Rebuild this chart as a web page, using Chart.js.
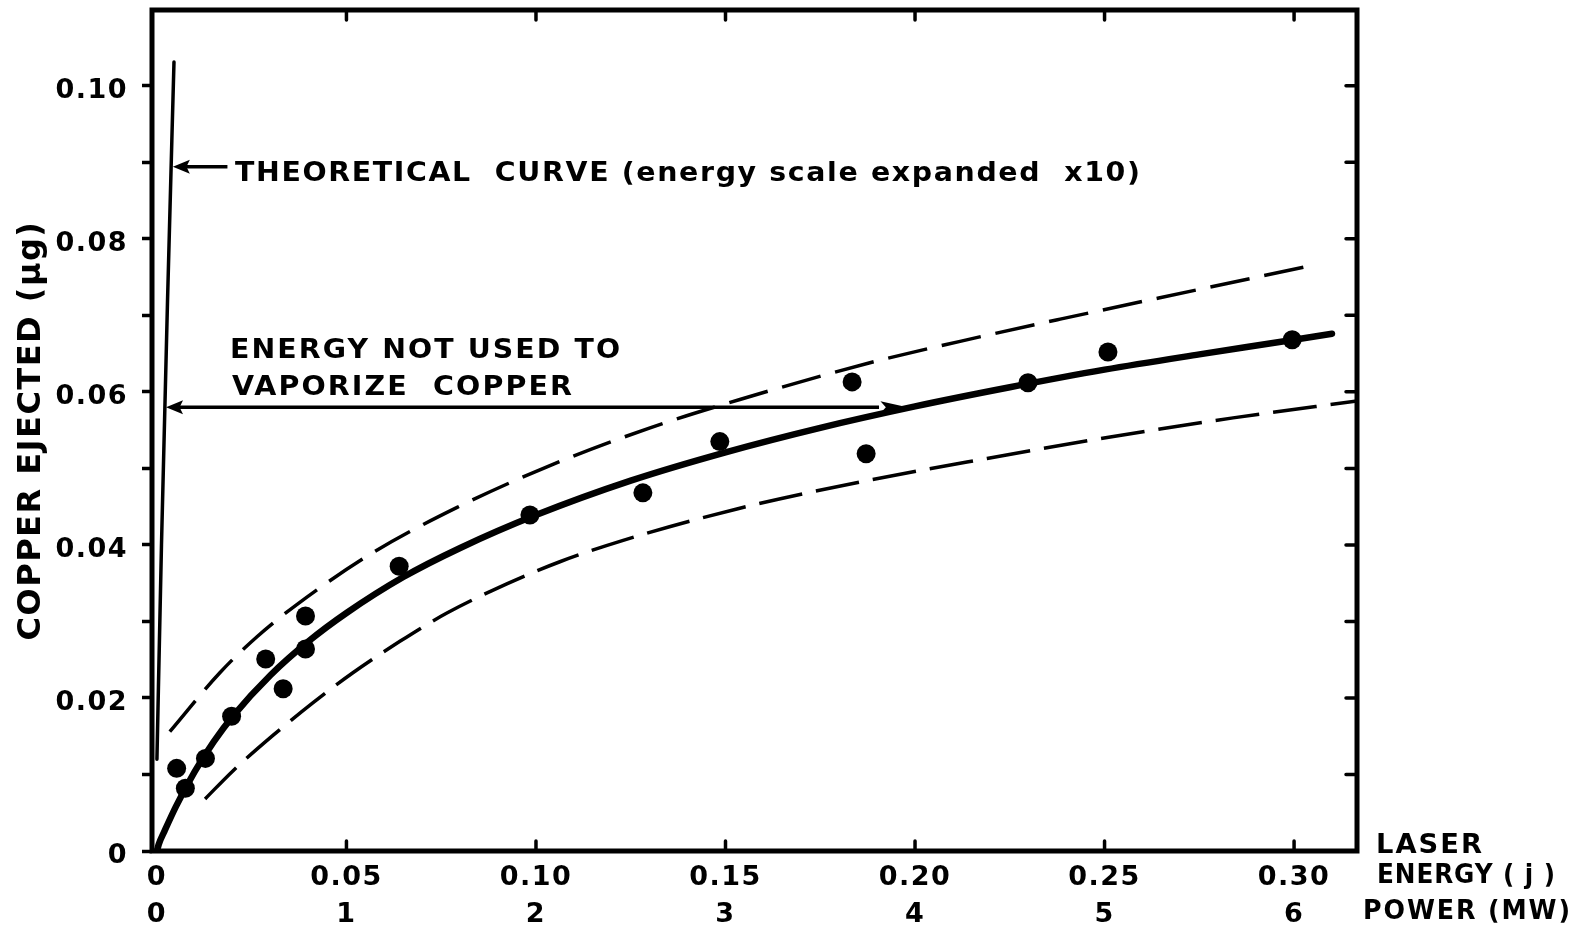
<!DOCTYPE html>
<html><head><meta charset="utf-8">
<script src="https://cdn.jsdelivr.net/npm/chart.js@4.4.1/dist/chart.umd.min.js"></script>
<style>html,body{margin:0;padding:0;background:#fff;} canvas{display:block;}</style>
</head><body>
<canvas id="c" width="1574" height="933"></canvas>
<script>
// ---- tick labels ----
const energyTickLabels = ['0','0.05','0.10','0.15','0.20','0.25','0.30'];
const powerTickLabels  = ['0','1','2','3','4','5','6'];
const copperTickLabels = ['0','','0.02','','0.04','','0.06','','0.08','','0.10'];

// ---- measured points (laser energy j, copper ejected µg) ----
const pointEnergy = [0.0052,0.0075,0.0128,0.0197,0.0287,0.0333,0.0392,0.0392,0.0639,0.0984,0.1282,0.1485,0.1834,0.1871,0.2298,0.2509,0.2995];
const pointCopper = [0.0108,0.0082,0.0121,0.0176,0.0251,0.0212,0.0307,0.0264,0.0372,0.0439,0.0468,0.0535,0.0613,0.0519,0.0612,0.0652,0.0668];

// ---- fitted curve ----
const fitEnergy = [0,0.0005,0.002,0.005,0.010,0.015,0.020,0.030,0.040,0.050,0.065,0.080,0.100,0.125,0.150,0.175,0.200,0.225,0.250,0.275,0.300,0.310];
const fitCopper = [0,0.0009,0.0026,0.0058,0.0104,0.0143,0.0176,0.0230,0.0274,0.0311,0.0358,0.0396,0.0439,0.0484,0.0521,0.0553,0.0581,0.0606,0.0629,0.0649,0.0668,0.0676];

// ---- upper / lower dashed bounds ----
const upperEnergy = [0.0034,0.0166,0.0264,0.0369,0.0570,0.0792,0.1029,0.1301,0.1538,0.1881,0.2119,0.2383,0.2646,0.3055];
const upperCopper = [0.0156,0.0233,0.0280,0.0322,0.0390,0.0449,0.0502,0.0553,0.0590,0.0638,0.0666,0.0695,0.0723,0.0766];
const lowerEnergy = [0.0127,0.0201,0.0306,0.0412,0.0517,0.0641,0.0765,0.0923,0.1063,0.1230,0.1530,0.1863,0.2190,0.2515,0.2839,0.3166];
const lowerCopper = [0.0068,0.0105,0.0151,0.0194,0.0233,0.0274,0.0311,0.0349,0.0378,0.0406,0.0447,0.0483,0.0513,0.0541,0.0566,0.0588];

// ---- theoretical curve (energy scale expanded x10) ----
const theoEnergy = [0.0000,0.0012,0.0028,0.0045];
const theoCopper = [0.0120,0.0400,0.0720,0.1031];

const xy = (xs, ys) => xs.map((x, i) => ({x: x, y: ys[i]}));
const FONT = 'DejaVu Sans';

function fitText(ctx, str, x, base, width, size, spacing) {
  ctx.font = 'bold ' + size + 'px "' + FONT + '"';
  ctx.textAlign = 'left'; ctx.textBaseline = 'alphabetic'; ctx.fillStyle = '#000';
  if ('letterSpacing' in ctx) ctx.letterSpacing = spacing + 'px';
  const w = ctx.measureText(str).width - spacing;
  ctx.save(); ctx.translate(x, base); ctx.scale(width / w, 1); ctx.fillText(str, 0, 0); ctx.restore();
  if ('letterSpacing' in ctx) ctx.letterSpacing = '0px';
}
function arrowHead(ctx, tx, ty, dir, len, half) {
  ctx.beginPath();
  ctx.moveTo(tx, ty);
  ctx.lineTo(tx - dir * len, ty - half);
  ctx.lineTo(tx - dir * len * 0.8, ty);
  ctx.lineTo(tx - dir * len, ty + half);
  ctx.closePath();
  ctx.fill();
}

const decor = {
  id: 'decor',
  beforeDraw(chart) { if ('letterSpacing' in chart.ctx) chart.ctx.letterSpacing = '1.5px'; },
  afterDraw(chart) {
    const ctx = chart.ctx, xs = chart.scales.x, ys = chart.scales.y, a = chart.chartArea;
    if ('letterSpacing' in ctx) ctx.letterSpacing = '0px';
    ctx.save();
    ctx.strokeStyle = '#000'; ctx.fillStyle = '#000';
    // frame
    ctx.lineWidth = 5; ctx.lineJoin = 'miter';
    ctx.strokeRect(a.left, a.top, a.right - a.left, a.bottom - a.top);
    // inward ticks: top, bottom, right
    ctx.lineWidth = 3.5; ctx.lineCap = 'round';
    ctx.beginPath();
    xs.ticks.forEach(t => {
      if (t.value <= 0.001) return;
      const px = xs.getPixelForValue(t.value);
      ctx.moveTo(px, a.bottom); ctx.lineTo(px, a.bottom - 10);
      ctx.moveTo(px, a.top); ctx.lineTo(px, a.top + 10);
    });
    ys.ticks.forEach(t => {
      if (t.value <= 0.001) return;
      const py = ys.getPixelForValue(t.value);
      ctx.moveTo(a.right, py); ctx.lineTo(a.right - 11, py);
    });
    ctx.stroke();

    // theoretical curve arrow
    ctx.lineCap = 'butt'; ctx.lineWidth = 3.5;
    let ay = ys.getPixelForValue(0.0894);
    let x1 = xs.getPixelForValue(0.0186), x0 = xs.getPixelForValue(0.0042);
    ctx.beginPath(); ctx.moveTo(x1, ay); ctx.lineTo(x0 + 12, ay); ctx.stroke();
    arrowHead(ctx, x0, ay, -1, 17, 7);

    // energy-not-used arrow
    ay = ys.getPixelForValue(0.058);
    x0 = xs.getPixelForValue(0.0024);
    x1 = xs.getPixelForValue(0.1905);
    ctx.beginPath(); ctx.moveTo(x0 + 12, ay); ctx.lineTo(x1, ay); ctx.stroke();
    arrowHead(ctx, x0, ay, -1, 17, 7);
    arrowHead(ctx, xs.getPixelForValue(0.198), ay, 1, 27, 6);

    // annotation texts
    fitText(ctx, 'THEORETICAL  CURVE (energy scale expanded  x10)', 235, 181, 905, 26, 1.5);
    fitText(ctx, 'ENERGY NOT USED TO', 230, 358, 390, 27, 2);
    fitText(ctx, 'VAPORIZE  COPPER', 232, 395, 340, 27, 2);
    // axis captions at right of x axis
    fitText(ctx, 'LASER', 1376, 853, 106, 27, 2);
    fitText(ctx, 'ENERGY ( j )', 1377, 883, 178, 27, 1);
    fitText(ctx, 'POWER (MW)', 1363, 919, 207, 27, 2);
    ctx.restore();
  }
};

new Chart(document.getElementById('c'), {
  type: 'scatter',
  data: {
    datasets: [
      {data: xy(upperEnergy, upperCopper), showLine: true, borderColor: '#000', borderWidth: 3.5,
       borderDash: [40, 15], pointRadius: 0, cubicInterpolationMode: 'monotone'},
      {data: xy(lowerEnergy, lowerCopper), showLine: true, borderColor: '#000', borderWidth: 3.5,
       borderDash: [44, 14], pointRadius: 0, cubicInterpolationMode: 'monotone'},
      {data: xy(fitEnergy, fitCopper), showLine: true, borderColor: '#000', borderWidth: 6.5,
       pointRadius: 0, cubicInterpolationMode: 'monotone', borderCapStyle: 'round', borderJoinStyle: 'round'},
      {data: xy(theoEnergy, theoCopper), showLine: true, borderColor: '#000', borderWidth: 3.5,
       pointRadius: 0, cubicInterpolationMode: 'monotone', borderCapStyle: 'round'},
      {data: xy(pointEnergy, pointCopper), showLine: false, pointRadius: 9.5,
       pointBackgroundColor: '#000', pointBorderColor: '#000', pointBorderWidth: 0}
    ]
  },
  options: {
    responsive: false, animation: false, devicePixelRatio: 1,
    layout: {padding: {left: 0, top: 10, right: 217, bottom: 0}},
    plugins: {legend: {display: false}, tooltip: {enabled: false}},
    scales: {
      x: {
        type: 'linear', position: 'bottom', min: -0.0013, max: 0.3166,
        afterFit(s) { s.height = 82; s.paddingLeft = 0; s.paddingRight = 0; },
        grid: {display: false, drawTicks: false},
        border: {display: false},
        ticks: {
          stepSize: 0.05, includeBounds: false, autoSkip: false, maxRotation: 0, padding: 8.5,
          color: '#000', font: {family: FONT, size: 27, weight: 'bold', lineHeight: 1.37},
          callback(v) { const i = Math.round(v / 0.05); return [energyTickLabels[i], powerTickLabels[i]]; }
        }
      },
      y: {
        type: 'linear', position: 'left', min: 0, max: 0.1099,
        afterFit(s) { s.width = 152; s.paddingTop = 0; s.paddingBottom = 0; },
        grid: {display: true, drawOnChartArea: false, drawTicks: true, tickLength: 10,
               tickWidth: 3.5, tickColor: '#000', color: '#000'},
        border: {display: false},
        ticks: {
          stepSize: 0.01, includeBounds: false, autoSkip: false, padding: 14, labelOffset: 5,
          color: '#000', font: {family: FONT, size: 27, weight: 'bold'},
          callback(v) { return copperTickLabels[Math.round(v / 0.01)]; }
        },
        title: {display: true, text: 'COPPER EJECTED (μg)', color: '#000',
                font: {family: FONT, size: 32, weight: 'bold', lineHeight: 1.2},
                padding: {top: 12, bottom: 0}}
      }
    }
  },
  plugins: [decor]
});
</script>
</body></html>
